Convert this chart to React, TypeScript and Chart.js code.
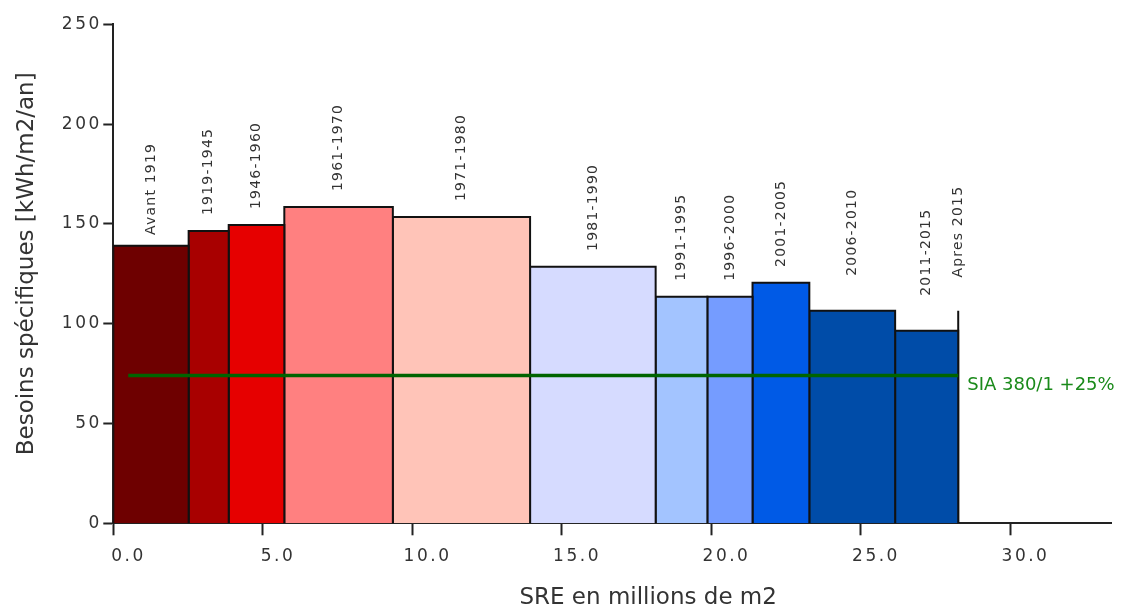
import React, { useEffect, useRef } from 'react';
import { Chart, registerables } from 'chart.js';

Chart.register(...registerables);

// ---------- data ----------
const periods = [
  'Avant 1919', '1919-1945', '1946-1960', '1961-1970', '1971-1980', '1981-1990',
  '1991-1995', '1996-2000', '2001-2005', '2006-2010', '2011-2015', 'Apres 2015',
];
// SRE (millions de m2) per period = bar widths
const surfaces = [2.52, 1.34, 1.86, 3.63, 4.59, 4.2, 1.73, 1.51, 1.9, 2.87, 2.11, 0];
// Besoins spécifiques [kWh/m2/an] = bar heights
const besoins = [139, 146.5, 149.5, 158.5, 153.5, 128.5, 113.5, 113.5, 120.5, 106.5, 96.5, 106.5];
const siaValue = 74;
const siaStart = 0.5;
const siaLabel = 'SIA 380/1 +25%';
const xTicks = [0, 5, 10, 15, 20, 25, 30];
const yTicks = [0, 50, 100, 150, 200, 250];
const xMax = 33.37;
const yMax = 250;
const xTitle = 'SRE en millions de m2';
const yTitle = 'Besoins spécifiques [kWh/m2/an]';

// ---------- styles ----------
const barColors = [
  '#6e0000', '#a80000', '#e60000', '#ff8080', '#ffc4b8', '#d6dbff',
  '#a3c4ff', '#759cff', '#005ae6', '#004ca8', '#004ca8', '#004ca8',
];
const labelGapPx = [103, 103, 103, 103, 103, 103, 103, 103, 103, 122, 122, 125];
const textColor = '#333333';
const axisColor = '#222222';

export default function App() {
  const ref = useRef<HTMLCanvasElement | null>(null);

  useEffect(() => {
    document.body.style.margin = '0';
    const canvas = ref.current;
    if (!canvas) return;

    const starts: number[] = [];
    let acc = 0;
    surfaces.forEach((w) => {
      starts.push(acc);
      acc += w;
    });
    const siaEnd = acc;

    const barSets = periods.map((p, i) => {
      const x0 = starts[i];
      const x1 = starts[i] + surfaces[i];
      const h = besoins[i];
      return {
        label: p,
        data: [
          { x: x0, y: 0 },
          { x: x0, y: h },
          { x: x1, y: h },
          { x: x1, y: 0 },
        ],
        showLine: true,
        fill: 'origin',
        backgroundColor: barColors[i],
        borderColor: '#111111',
        borderWidth: 2,
        pointRadius: 0,
        order: 1,
      };
    });

    const siaSet = {
      label: siaLabel,
      data: [
        { x: siaStart, y: siaValue },
        { x: siaEnd, y: siaValue },
      ],
      showLine: true,
      fill: false,
      borderColor: '#006400',
      borderWidth: 3.5,
      pointRadius: 0,
      order: 0,
    };

    const overlay = {
      id: 'overlay',
      beforeDraw(chart: any) {
        chart.ctx.letterSpacing = '0px';
      },
      afterDatasetsDraw(chart: any) {
        chart.ctx.letterSpacing = '2.5px';
      },
      afterDraw(chart: any) {
        const ctx = chart.ctx as CanvasRenderingContext2D & { letterSpacing: string };
        const xs = chart.scales.x;
        const ys = chart.scales.y;
        const area = chart.chartArea;
        ctx.save();
        ctx.letterSpacing = '1.2px';
        ctx.fillStyle = textColor;
        ctx.font = '14px "DejaVu Sans"';
        ctx.textAlign = 'right';
        ctx.textBaseline = 'middle';
        periods.forEach((p, i) => {
          const cx = (xs.getPixelForValue(starts[i]) + xs.getPixelForValue(starts[i] + surfaces[i])) / 2;
          const top = ys.getPixelForValue(besoins[i]) - labelGapPx[i];
          ctx.save();
          ctx.translate(cx, top);
          ctx.rotate(-Math.PI / 2);
          ctx.fillText(p, 0, 0);
          ctx.restore();
        });

        ctx.letterSpacing = '0px';
        // SIA label
        ctx.fillStyle = '#1a8a1a';
        ctx.font = '18px "DejaVu Sans"';
        ctx.textAlign = 'left';
        ctx.textBaseline = 'middle';
        ctx.fillText(siaLabel, xs.getPixelForValue(siaEnd) + 9, ys.getPixelForValue(siaValue) + 10);

        // axis titles
        ctx.fillStyle = textColor;
        ctx.font = '23px "DejaVu Sans"';
        ctx.textAlign = 'center';
        ctx.textBaseline = 'middle';
        ctx.fillText(xTitle, (area.left + area.right) / 2 + 36, area.bottom + 75);
        ctx.save();
        ctx.translate(area.left - 86, (area.top + area.bottom) / 2 - 10);
        ctx.rotate(-Math.PI / 2);
        ctx.fillText(yTitle, 0, 0);
        ctx.restore();
        ctx.restore();
      },
    };

    const chart = new Chart(canvas, {
      type: 'scatter',
      data: { datasets: [siaSet, ...barSets] as any },
      options: {
        animation: false,
        responsive: false,
        devicePixelRatio: 1,
        layout: { padding: { top: 24.3, right: 12, left: 0, bottom: 0 } },
        plugins: { legend: { display: false }, tooltip: { enabled: false } },
        scales: {
          x: {
            type: 'linear',
            min: 0,
            max: xMax,
            afterBuildTicks: (s: any) => {
              s.ticks = xTicks.map((v) => ({ value: v }));
            },
            afterFit: (s: any) => {
              s.height = 86.7;
            },
            grid: {
              drawOnChartArea: false,
              drawTicks: true,
              tickLength: 12,
              tickWidth: 2,
              tickColor: axisColor,
            },
            border: { display: true, color: axisColor, width: 2 },
            ticks: {
              z: 1,
              color: textColor,
              font: { family: 'DejaVu Sans', size: 17 },
              padding: 11,
              labelOffset: 15.25,
              maxRotation: 0,
              autoSkip: false,
              callback: (v: any) => Number(v).toFixed(1),
            },
          },
          y: {
            type: 'linear',
            min: 0,
            max: yMax,
            afterBuildTicks: (s: any) => {
              s.ticks = yTicks.map((v) => ({ value: v }));
            },
            afterFit: (s: any) => {
              s.width = 113.3;
            },
            grid: {
              drawOnChartArea: false,
              drawTicks: true,
              tickLength: 10,
              tickWidth: 2,
              tickColor: axisColor,
            },
            border: { display: true, color: axisColor, width: 2 },
            ticks: {
              z: 1,
              color: textColor,
              font: { family: 'DejaVu Sans', size: 17 },
              padding: 1.5,
              autoSkip: false,
              callback: (v: any) => String(v),
            },
          },
        },
      },
      plugins: [overlay],
    });

    return () => chart.destroy();
  }, []);

  return (
    <div style={{ width: 1123, height: 610 }}>
      <canvas ref={ref} width={1123} height={610} style={{ display: 'block' }} />
    </div>
  );
}
